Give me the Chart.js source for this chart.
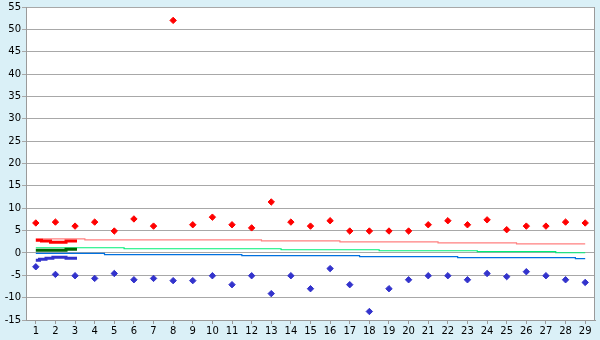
<!DOCTYPE html>
<html>
<head>
<meta charset="utf-8">
<script src="https://cdn.jsdelivr.net/npm/chart.js@4"></script>
<style>
  html, body { margin: 0; padding: 0; background: #daf0f7; }
  #c { display: block; }
</style>
</head>
<body>
<canvas id="c" width="600" height="340"></canvas>
<script>
const labels = ['1','2','3','4','5','6','7','8','9','10','11','12','13','14','15','16','17','18','19','20','21','22','23','24','25','26','27','28','29'];

// scatter markers
const highVals = [6.7, 6.9, 6.0, 6.9, 4.9, 7.6, 6.0, 52, 6.3, 8.0, 6.3, 5.6, 11.4, 6.9, 6.0, 7.2, 4.9, 4.9, 4.9, 4.9, 6.3, 7.2, 6.3, 7.4, 5.2, 6.0, 6.0, 6.9, 6.7];
const lowVals = [-3.1, -4.8, -5.1, -5.7, -4.6, -6.0, -5.7, -6.2, -6.2, -5.1, -7.1, -5.1, -9.1, -5.1, -8.0, -3.5, -7.1, -13.1, -8.0, -6.0, -5.1, -5.1, -6.0, -4.6, -5.3, -4.2, -5.1, -6.0, -6.6];

// thin step lines
const pinkVals = [3.16, 3.16, 3.16, 2.93, 2.93, 2.93, 2.93, 2.93, 2.93, 2.93, 2.93, 2.93, 2.71, 2.71, 2.71, 2.71, 2.49, 2.49, 2.49, 2.49, 2.49, 2.27, 2.27, 2.27, 2.27, 2.04, 2.04, 2.04, 2.04];
const greenVals = [1.16, 1.16, 1.16, 1.16, 1.16, 0.93, 0.93, 0.93, 0.93, 0.93, 0.93, 0.93, 0.93, 0.71, 0.71, 0.71, 0.71, 0.71, 0.49, 0.49, 0.49, 0.49, 0.49, 0.27, 0.27, 0.27, 0.27, 0.04, 0.04];
const blueVals = [-0.11, -0.11, -0.11, -0.11, -0.4, -0.4, -0.4, -0.4, -0.4, -0.4, -0.4, -0.62, -0.62, -0.62, -0.62, -0.62, -0.62, -0.84, -0.84, -0.84, -0.84, -0.84, -1.07, -1.07, -1.07, -1.07, -1.07, -1.07, -1.29];

// thick short lines (finer x positions, in category units)
const redThickX = [1, 1.29, 1.75, 2.54, 3.1];
const redThickY = [2.84, 2.67, 2.38, 2.67, 2.67];
const greenThickX = [1, 2.54, 3.1];
const greenThickY = [0.6, 0.82, 0.82];
const blueThickX = [1, 1.19, 1.52, 1.87, 2.54, 3.1];
const blueThickY = [-1.62, -1.4, -1.18, -0.96, -1.18, -1.18];

const yTicks = [-15, -10, -5, 0, 5, 10, 15, 20, 25, 30, 35, 40, 45, 50, 55];

const pts = (xs, ys) => xs.map((x, i) => ({x: x, y: ys[i]}));
const FONT = {family: "'DejaVu Sans', sans-serif", size: 10};

const plotBg = {
  id: 'plotBg',
  beforeDraw(chart) {
    const {ctx, chartArea: a} = chart;
    ctx.save();
    ctx.fillStyle = '#daf0f7'; ctx.fillRect(0, 0, chart.width, chart.height);
    ctx.fillStyle = '#ffffff'; ctx.fillRect(a.left, a.top, a.right - a.left, a.bottom - a.top);
    ctx.restore();
  },
  afterDatasetsDraw(chart) {
    const {ctx, chartArea: a} = chart;
    ctx.save();
    ctx.strokeStyle = '#9a9a9a'; ctx.lineWidth = 1;
    ctx.beginPath(); ctx.moveTo(Math.round(a.right) - 0.5, a.top); ctx.lineTo(Math.round(a.right) - 0.5, a.bottom); ctx.stroke();
    ctx.restore();
  }
};

const markerDs = (data, color) => ({
  data, showLine: false, borderColor: color, backgroundColor: color,
  pointStyle: 'rectRot', pointRadius: 3.2, pointBorderWidth: 1
});
const stepDs = (data, color) => ({
  data, stepped: 'middle', borderColor: color, borderWidth: 1.2, pointRadius: 0, fill: false
});
const thickDs = (data, color) => ({
  data, xAxisID: 'x2', stepped: 'before', borderColor: color, borderWidth: 3, pointRadius: 0, fill: false
});

new Chart(document.getElementById('c'), {
  type: 'line',
  data: {
    labels,
    datasets: [
      markerDs(highVals, '#ff0000'),
      markerDs(lowVals, '#3333cc'),
      thickDs(pts(redThickX, redThickY), '#ff0000'),
      thickDs(pts(greenThickX, greenThickY), '#006600'),
      thickDs(pts(blueThickX, blueThickY), '#3333cc'),
      stepDs(pinkVals, '#ff8080'),
      stepDs(greenVals, '#00ee77'),
      stepDs(blueVals, '#0070e0')
    ]
  },
  options: {
    responsive: false, animation: false,
    layout: {padding: {top: 5, right: 5, left: 0, bottom: 0}},
    plugins: {legend: {display: false}, tooltip: {enabled: false}},
    scales: {
      x: {
        offset: true,
        grid: {drawOnChartArea: false, drawTicks: true, tickLength: 4, color: '#9a9a9a', offset: false},
        border: {color: '#9a9a9a'},
        ticks: {color: '#000', font: FONT, padding: 1, maxRotation: 0, autoSkip: false},
        afterFit: s => { s.height = 20; }
      },
      x2: {type: 'linear', display: false, min: 0.5, max: 29.5},
      y: {
        min: -15, max: 55,
        afterBuildTicks: s => { s.ticks = yTicks.map(v => ({value: v})); },
        grid: {color: '#a8a8a8', tickLength: 4},
        border: {color: '#9a9a9a'},
        ticks: {color: '#000', font: FONT, padding: 1},
        afterFit: s => { s.width = 26; }
      }
    }
  },
  plugins: [plotBg]
});
</script>
</body>
</html>
